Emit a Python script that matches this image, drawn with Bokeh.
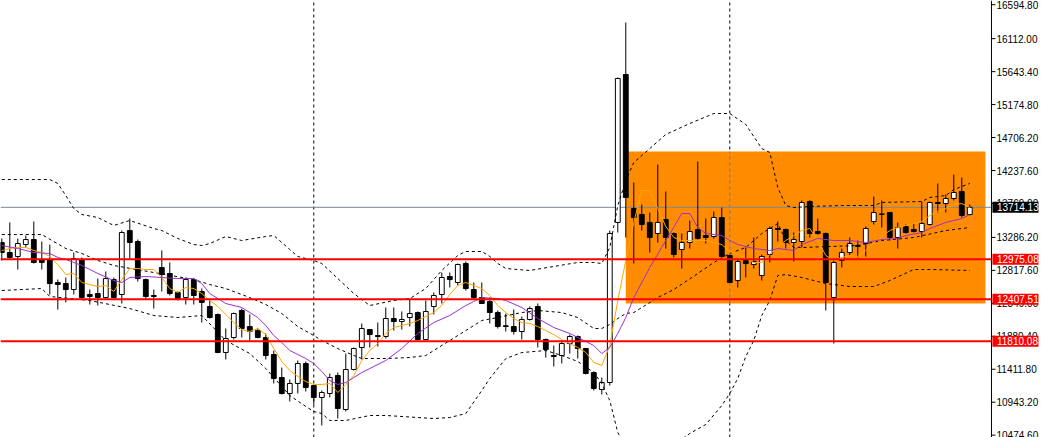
from bokeh.plotting import figure
from bokeh.models import Range1d, ColumnDataSource
from bokeh.embed import file_html
from bokeh.resources import INLINE
from bokeh.core.properties import value

# ---------------- data ----------------
open_ = [13214, 13072, 13015, 13185, 13256, 12972, 12972, 12645, 12630, 12545,
         12972, 12474, 12488, 12431, 12687, 12474, 13384, 13228, 12687, 12460,
         12858, 12773, 12503, 12431, 12687, 12517, 12304, 12190, 11650, 11863,
         12247, 12019, 11962, 11863, 11621, 11294, 11067, 11209, 11493, 11180,
         11010, 11067, 11322, 10839, 11408, 11721, 11976, 11891, 11877, 12133,
         12090, 12147, 12218, 11834, 12304, 12474, 12730, 12645, 12915, 12545,
         12431, 12375, 12218, 12030, 12019, 11948, 12119, 12304, 11834, 11607,
         11607, 11777, 11877, 11706, 11365, 11124, 11223, 13499, 15603, 13697,
         13612, 13499, 13342, 13541, 13342, 13114, 13214, 13399, 13313, 13299,
         13569, 13029, 12673, 12958, 12901, 12744, 13043, 13413, 13399, 13214,
         13228, 13797, 13370, 13342, 12431, 12958, 13072, 13157, 13199, 13512,
         13612, 13640, 13285, 13441, 13399, 13370, 13470, 13782, 13768, 13839,
         13939, 13612]
high = [13270, 13499, 13270, 13313, 13513, 13228, 13185, 12687, 12715, 13072,
        13001, 12545, 12701, 12801, 12715, 13384, 13555, 13256, 12701, 12545,
        13100, 12930, 12517, 12715, 12701, 12559, 12389, 12204, 11991, 12218,
        12275, 12190, 11991, 11920, 11678, 11436, 11266, 11536, 11522, 11195,
        11109, 11351, 11365, 11635, 11721, 12062, 11976, 12076, 12290, 12290,
        12233, 12403, 12233, 12389, 12503, 12787, 12787, 12915, 12944, 12645,
        12645, 12431, 12247, 12204, 12261, 12162, 12304, 12346, 11848, 11749,
        11820, 11905, 11891, 11715, 11380, 11294, 13384, 15560, 16342, 14067,
        13754, 13640, 14323, 13939, 13356, 13342, 13527, 14366, 13555, 13654,
        13711, 13043, 12972, 13143, 13285, 13043, 13441, 13513, 13413, 13356,
        13811, 13815, 13555, 13356, 12972, 13128, 13285, 13242, 13441, 13868,
        13811, 13650, 13499, 13470, 13484, 13797, 13797, 14053, 13896, 14181,
        14138, 13754]
low = [12958, 12986, 12830, 13143, 12915, 12830, 12474, 12261, 12361, 12474,
       12417, 12332, 12318, 12417, 12417, 12346, 12986, 12659, 12417, 12275,
       12517, 12460, 12389, 12332, 12332, 12076, 12133, 11640, 11550, 11834,
       11863, 11820, 11850, 11550, 11209, 11053, 10953, 11067, 11095, 10910,
       10612, 11010, 10711, 10811, 11394, 11550, 11721, 11735, 11848, 11962,
       11976, 12019, 11820, 11820, 12190, 12346, 12574, 12602, 12531, 12403,
       12340, 12062, 11991, 11948, 11905, 11834, 12105, 11721, 11578, 11450,
       11493, 11635, 11564, 11340, 11109, 11053, 11180, 13356, 13285, 12915,
       13384, 13072, 13214, 13128, 13001, 12844, 13128, 13256, 13199, 13271,
       13001, 12640, 12574, 12716, 12844, 12673, 12930, 13228, 13128, 12944,
       13143, 13285, 13327, 12247, 11777, 12858, 13029, 13001, 13015, 13470,
       13427, 13242, 13128, 13342, 13356, 13285, 13456, 13640, 13640, 13811,
       13569, 13598]
close = [13072, 13001, 13199, 13256, 12930, 12930, 12630, 12616, 12545, 12986,
         12431, 12446, 12431, 12701, 12431, 13356, 13214, 12701, 12446, 12446,
         12758, 12488, 12417, 12687, 12460, 12361, 12147, 11650, 11848, 12204,
         11991, 11948, 11863, 11607, 11280, 11067, 11209, 11493, 11152, 11010,
         11081, 11294, 10853, 11408, 11706, 11991, 11905, 11877, 12133, 12090,
         12119, 12204, 11834, 12233, 12460, 12716, 12687, 12901, 12559, 12431,
         12346, 12218, 12019, 12019, 11948, 12119, 12275, 11834, 11692, 11593,
         11777, 11877, 11706, 11351, 11138, 11223, 13342, 15546, 13853, 13569,
         13470, 13285, 13499, 13285, 13043, 13214, 13370, 13271, 13285, 13569,
         13015, 12645, 12944, 12915, 12944, 13015, 13413, 13399, 13214, 13256,
         13782, 13342, 13342, 12645, 12930, 13072, 13199, 13171, 13413, 13640,
         13620, 13285, 13427, 13356, 13370, 13484, 13782, 13768, 13839, 13925,
         13598, 13714]

ma_fast = [13100, 13128, 13143, 13143, 13100, 13072, 13015, 12901, 12759, 12773,
           12645, 12616, 12588, 12602, 12517, 12687, 12844, 12844, 12830, 12830,
           12716, 12559, 12503, 12574, 12559, 12488, 12389, 12304, 12190, 12076,
           11976, 11948, 11991, 11905, 11706, 11522, 11394, 11308, 11237, 11195,
           11195, 11209, 11081, 11195, 11322, 11536, 11678, 11777, 11920, 12005,
           12033, 12062, 12105, 12162, 12218, 12318, 12474, 12602, 12645, 12602,
           12559, 12460, 12318, 12218, 12133, 12076, 12062, 12019, 11962, 11905,
           11834, 11777, 11721, 11650, 11508, 11465, 11749, 12389, 12958, 13499,
           13953, 13953, 13697, 13441, 13285, 13242, 13242, 13242, 13242, 13214,
           13185, 13086, 13043, 12986, 12930, 12930, 13043, 13157, 13242, 13313,
           13384, 13413, 13242, 13029, 12958, 13001, 13029, 13015, 13100, 13214,
           13299, 13384, 13427, 13456, 13484, 13513, 13598, 13654, 13697, 13754,
           13768, 13711]

ma_slow_idx = [0, 2, 4, 6, 7, 8, 10, 11, 12, 14, 15, 16, 18, 20, 22, 24, 25, 26, 28, 30,
               31, 32, 33, 34, 35, 36, 37, 38, 39, 40, 41, 42, 43, 44, 45, 46, 48, 50, 52, 54,
               56, 58, 59, 60, 62, 63, 65, 67, 69, 71, 72, 74, 75, 76, 77, 78, 79, 81, 83, 85,
               86, 87, 88, 90, 91, 92, 94, 96, 97, 99, 100, 102, 104, 106, 108, 110, 112, 113, 115, 116,
               118, 120, 121]
ma_slow = [13171, 13128, 13072, 13058, 13001, 12972, 12887, 12830, 12773, 12673,
           12645, 12716, 12730, 12716, 12701, 12701, 12630, 12488, 12346, 12290,
           12218, 12147, 12033, 11891, 11792, 11678, 11621, 11564, 11493, 11380,
           11251, 11195, 11223, 11294, 11365, 11422, 11536, 11706, 11920, 12076,
           12176, 12318, 12375, 12431, 12417, 12389, 12290, 12133, 12005, 11920,
           11863, 11749, 11635, 11721, 11920, 12147, 12431, 12858, 13242, 13626,
           13626, 13427, 13342, 13313, 13242, 13185, 13128, 13100, 13128, 13100,
           13185, 13271, 13242, 13242, 13214, 13256, 13271, 13313, 13356, 13413,
           13499, 13555, 13612]

bb_upper_idx = [0, 6, 7, 8, 9, 10, 12, 14, 16, 19, 20, 22, 24, 25, 26, 28, 30, 33, 34, 36,
                37, 39, 40, 42, 44, 46, 49, 51, 53, 55, 57, 58, 60, 61, 62, 63, 66, 69, 72, 74,
                75, 76, 77, 78, 79, 81, 83, 86, 89, 91, 93, 95, 96, 97, 98, 99, 101, 105, 109, 110,
                115, 116, 118, 119, 120, 121]
bb_upper = [14109, 14109, 14053, 13882, 13697, 13612, 13569, 13456, 13527, 13413,
            13384, 13271, 13185, 13171, 13199, 13299, 13242, 13299, 13313, 13114,
            13015, 12958, 12915, 12701, 12488, 12318, 12389, 12417, 12559, 12816,
            13029, 13086, 13086, 13015, 12915, 12844, 12816, 12873, 12930, 12930,
            12915, 13143, 13740, 14095, 14351, 14550, 14750, 14906, 15048, 15048,
            14892, 14550, 14494, 13996, 13740, 13711, 13726, 13740, 13740, 13783,
            13797, 13854, 13882, 13967, 14010, 14053]

bb_mid_idx = [0, 5, 8, 10, 12, 14, 19, 24, 26, 28, 31, 33, 35, 37, 39, 40, 42, 44, 45, 48,
              51, 53, 56, 58, 60, 62, 65, 67, 70, 72, 74, 75, 76, 77, 78, 79, 82, 84, 87, 89,
              91, 93, 95, 96, 97, 98, 99, 100, 107, 110, 114, 118, 121]
bb_mid = [13327, 13327, 13128, 13058, 12958, 12887, 12787, 12687, 12616, 12559,
          12431, 12332, 12204, 12019, 11891, 11820, 11706, 11607, 11564, 11564,
          11578, 11607, 11820, 11962, 12105, 12147, 12218, 12247, 12218, 12147,
          11991, 11991, 12048, 12133, 12204, 12218, 12431, 12545, 12773, 12930,
          13058, 13143, 13342, 13413, 13484, 13242, 13143, 13143, 13171, 13242,
          13285, 13384, 13427]

bb_low_idx = [0, 5, 6, 11, 16, 19, 22, 25, 28, 31, 33, 36, 38, 39, 40, 41, 43, 46, 48, 54,
              56, 58, 60, 61, 63, 65, 68, 70, 72, 74, 75, 76, 77, 78, 79, 81, 83, 86, 88, 90,
              91, 92, 93, 94, 95, 96, 97, 98, 100, 103, 106, 109, 111, 114, 116, 121]
bb_low = [12531, 12559, 12446, 12389, 12275, 12176, 12147, 12176, 11820, 11635,
          11422, 11038, 10882, 10811, 10782, 10683, 10683, 10754, 10754, 10711,
          10725, 10782, 11109, 11280, 11564, 11649, 11678, 11607, 11522, 11365,
          11209, 10967, 10512, 10313, 10085, 10213, 10256, 10498, 10626, 10896,
          11067, 11280, 11593, 11820, 12176, 12389, 12744, 12758, 12716, 12630,
          12588, 12588, 12673, 12830, 12830, 12816]

levels = [12975.08, 12407.51, 11810.08]
level_labels = ["12975.08", "12407.51", "11810.08"]
bid_price = 13714.13
bid_label = "13714.13"
zone_start = 78
zone_end = 122.96
zone_top = 14508
zone_bottom = 12346
separators = [39, 91]
tick_values = [16594.80, 16112.00, 15643.40, 15174.80, 14706.20, 14237.60, 13769.00,
               13286.20, 12817.60, 12349.00, 11880.40, 11411.80, 10943.20, 10474.60]
tick_labels = ["16594.80", "16112.00", "15643.40", "15174.80", "14706.20", "14237.60",
               "13769.00", "13286.20", "12817.60", "12349.00", "11880.40", "11411.80",
               "10943.20", "10474.60"]

# ---------------- figure ----------------
W, H = 1042, 437
X_LO, X_HI = -0.1625, 130.09        # candle i sits at pixel 1.3 + 8 i
Y_LO, Y_HI = 10441, 16655
AXIS_X = 123.71                      # price-scale line (pixel 991)
TICK_END = 124.21
LABEL_X = 124.34
TAG_X = 126.71
TAG_TEXT_X = 124.40
FONT = value("Liberation Sans")
FSIZE = "10px"

p = figure(width=W, height=H, output_backend="svg", toolbar_location=None,
           x_range=Range1d(X_LO, X_HI), y_range=Range1d(Y_LO, Y_HI),
           x_axis_type=None, y_axis_type=None,
           min_border=0, min_border_left=0, min_border_right=0,
           min_border_top=0, min_border_bottom=0)
p.background_fill_color = "white"
p.border_fill_color = "white"
p.outline_line_color = None
p.grid.visible = False

# period separators (underneath the zone)
p.segment(x0=separators, y0=[Y_LO] * 2, x1=separators, y1=[Y_HI] * 2,
          line_color="black", line_width=1, line_dash="3 3")

# orange zone
p.quad(left=[zone_start], right=[zone_end], top=[zone_top], bottom=[zone_bottom],
       fill_color="#FF8C00", line_color=None)
# separator as seen through the zone
p.segment(x0=[separators[1]], y0=[zone_bottom], x1=[separators[1]], y1=[zone_top],
          line_color="#3f7fd9", line_width=1, line_dash="3 3")

# bid line
p.segment(x0=[X_LO], y0=[bid_price], x1=[AXIS_X], y1=[bid_price],
          line_color="#778899", line_width=1)

# candles
idx = list(range(len(close)))
colors = ["white" if c > o else "black" for o, c in zip(open_, close)]
src = ColumnDataSource(dict(x=idx, o=open_, h=high, l=low, c=close,
                            top=[max(o, c) for o, c in zip(open_, close)],
                            bot=[min(o, c) for o, c in zip(open_, close)],
                            fill=colors))
p.segment(x0="x", y0="l", x1="x", y1="h", source=src, line_color="black", line_width=1)
p.vbar(x="x", width=0.6, top="top", bottom="bot", source=src,
       fill_color="fill", line_color="black", line_width=1)

# Bollinger bands
p.line(bb_upper_idx, bb_upper, line_color="black", line_width=1, line_dash="3 3")
p.line(bb_mid_idx, bb_mid, line_color="black", line_width=1, line_dash="3 3")
p.line(bb_low_idx, bb_low, line_color="black", line_width=1, line_dash="3 3")

# moving averages
p.line(idx, ma_fast, line_color="#FFA500", line_width=1)
p.line(ma_slow_idx, ma_slow, line_color="#9932CC", line_width=1)

# support / resistance levels
p.segment(x0=[X_LO] * 3, y0=levels, x1=[AXIS_X] * 3, y1=levels,
          line_color="#FF0000", line_width=2)

# price scale on the right
p.segment(x0=[AXIS_X], y0=[Y_LO], x1=[AXIS_X], y1=[Y_HI], line_color="black", line_width=1)
p.segment(x0=[AXIS_X] * len(tick_values), y0=tick_values,
          x1=[TICK_END] * len(tick_values), y1=tick_values,
          line_color="black", line_width=1)
p.text(x=[LABEL_X] * len(tick_values), y=tick_values, text=tick_labels,
       text_font=FONT, text_font_size=FSIZE, text_color="black",
       text_baseline="middle", text_align="left")

# price tags
p.rect(x=[TAG_X], y=[bid_price], width=46, height=11,
       width_units="screen", height_units="screen", fill_color="black", line_color=None)
p.text(x=[TAG_TEXT_X], y=[bid_price], text=[bid_label],
       text_font=FONT, text_font_size=FSIZE, text_color="white",
       text_baseline="middle", text_align="left")
p.rect(x=[TAG_X] * 3, y=levels, width=46, height=11,
       width_units="screen", height_units="screen", fill_color="#FF0000", line_color=None)
p.text(x=[TAG_TEXT_X] * 3, y=levels, text=level_labels,
       text_font=FONT, text_font_size=FSIZE, text_color="white",
       text_baseline="middle", text_align="left")

open("out.html", "w").write(file_html(p, INLINE))
